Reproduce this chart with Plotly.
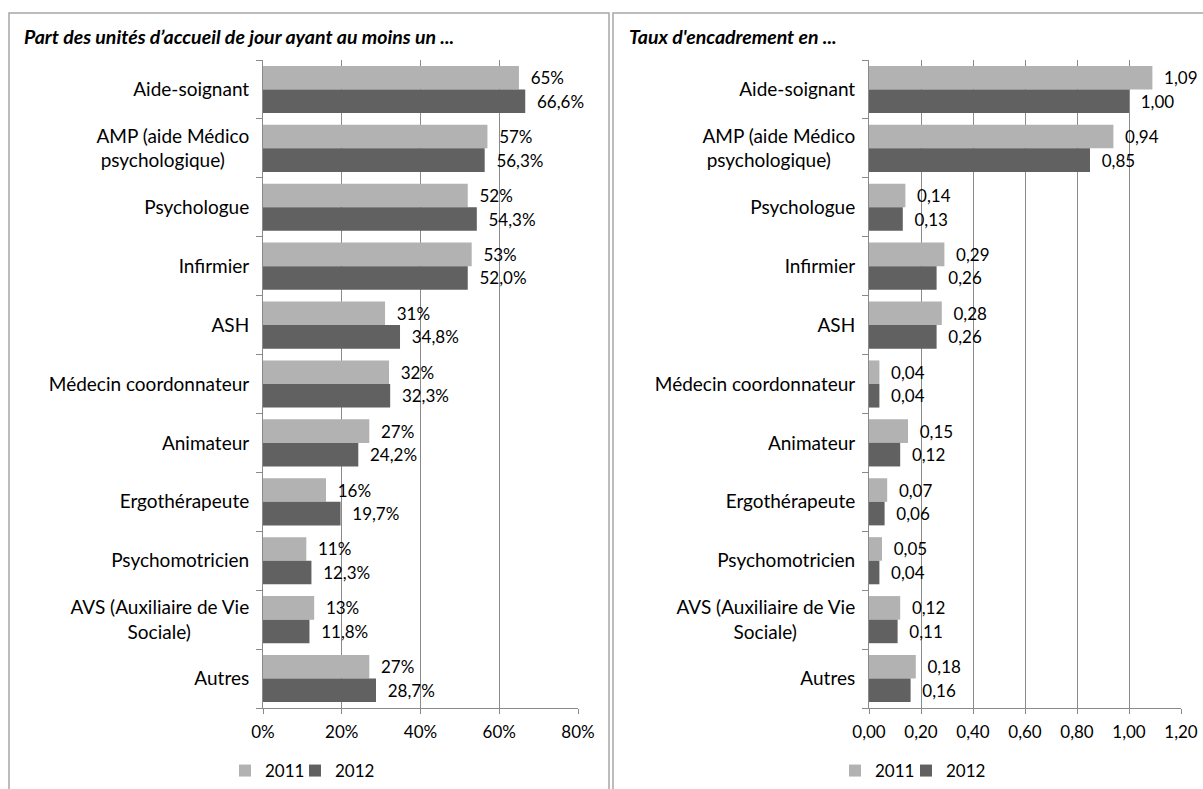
import plotly.graph_objects as go

categories = ["Aide-soignant", "AMP (aide Médico psychologique)", "Psychologue", "Infirmier", "ASH",
              "Médecin coordonnateur", "Animateur", "Ergothérapeute", "Psychomotricien",
              "AVS (Auxiliaire de Vie Sociale)", "Autres"]
# tick labels as drawn (two-line labels centred by hand)
category_labels = ["Aide-soignant", "AMP (aide Médico<br>psychologique)" + "\u00a0" * 5, "Psychologue",
                   "Infirmier", "ASH", "Médecin coordonnateur", "Animateur", "Ergothérapeute",
                   "Psychomotricien", "AVS (Auxiliaire de Vie<br>Sociale)" + "\u00a0" * 12, "Autres"]
part_2011 = [65, 57, 52, 53, 31, 32, 27, 16, 11, 13, 27]
part_2012 = [66.6, 56.3, 54.3, 52.0, 34.8, 32.3, 24.2, 19.7, 12.3, 11.8, 28.7]
taux_2011 = [1.09, 0.94, 0.14, 0.29, 0.28, 0.04, 0.15, 0.07, 0.05, 0.12, 0.18]
taux_2012 = [1.00, 0.85, 0.13, 0.26, 0.26, 0.04, 0.12, 0.06, 0.04, 0.11, 0.16]
part_ticks = [0, 20, 40, 60, 80]
part_tick_labels = ["0%", "20%", "40%", "60%", "80%"]
taux_ticks = [0, 0.2, 0.4, 0.6, 0.8, 1.0, 1.2]

c2011 = "#b2b2b2"
c2012 = "#616161"
grid = "#8a8a8a"
font = "Lato"
W, H = 1203, 789

fig = go.Figure()
sp = "\u00a0\u00a0"
fig.add_trace(go.Bar(y=categories, x=part_2011, orientation="h", name="2011", marker=dict(color=c2011),
                     texttemplate=sp + "%{x:.0f}%", textposition="outside", cliponaxis=False,
                     xaxis="x", yaxis="y", legend="legend"))
fig.add_trace(go.Bar(y=categories, x=part_2012, orientation="h", name="2012", marker=dict(color=c2012),
                     texttemplate=sp + "%{x:.1f}%", textposition="outside", cliponaxis=False,
                     xaxis="x", yaxis="y", legend="legend2"))
fig.add_trace(go.Bar(y=categories, x=taux_2011, orientation="h", name="2011", marker=dict(color=c2011),
                     texttemplate=sp + "%{x:.2f}", textposition="outside", cliponaxis=False,
                     xaxis="x2", yaxis="y2", legend="legend3"))
fig.add_trace(go.Bar(y=categories, x=taux_2012, orientation="h", name="2012", marker=dict(color=c2012),
                     texttemplate=sp + "%{x:.2f}", textposition="outside", cliponaxis=False,
                     xaxis="x2", yaxis="y2", legend="legend4"))
fig.update_traces(textfont=dict(size=17, color="#000"), marker_line_width=0)

ydom = [1 - 708 / H, 1 - 60 / H]
xax = dict(showgrid=True, gridcolor=grid, gridwidth=1, showline=True, linecolor=grid,
           ticks="outside", ticklen=5, tickcolor=grid, zeroline=False, automargin=False,
           tickfont=dict(size=17, color="#000"), ticklabelstandoff=4, fixedrange=True)
yax = dict(type="category", autorange="reversed", showline=True, linecolor=grid,
           ticks="outside", ticklen=6, tickcolor=grid, tickson="boundaries", showgrid=False,
           tickvals=categories, ticktext=category_labels, automargin=False,
           tickfont=dict(size=19, color="#000"), ticklabelstandoff=9, fixedrange=True)

leg = dict(orientation="h", y=1 - 771 / H, xanchor="left", yanchor="middle",
           font=dict(size=17), bgcolor="rgba(0,0,0,0)")
fig.update_layout(
    width=W, height=H, autosize=False,
    margin=dict(l=0, r=0, t=0, b=0, autoexpand=False),
    paper_bgcolor="white", plot_bgcolor="white",
    font=dict(family=font, color="#000"),
    separators=", ",
    barmode="group", bargap=0.2, bargroupgap=0,
    xaxis=dict(xax, domain=[263 / W, 578 / W], range=[0, 80], tickvals=part_ticks,
               ticktext=part_tick_labels, anchor="y"),
    yaxis=dict(yax, domain=ydom, anchor="x"),
    xaxis2=dict(xax, domain=[869 / W, 1181 / W], range=[0, 1.2], tickvals=taux_ticks,
                tickformat=".2f", anchor="y2"),
    yaxis2=dict(yax, domain=ydom, anchor="x2"),
    legend=dict(leg, x=225 / W),
    legend2=dict(leg, x=295 / W),
    legend3=dict(leg, x=835 / W),
    legend4=dict(leg, x=906 / W),
    showlegend=True,
)

fig.add_annotation(text="<b><i>Part des unités d’accueil de jour ayant au moins un ...</i></b>",
                   xref="paper", yref="paper", x=22 / W, y=1 - 37 / H, xanchor="left", yanchor="middle",
                   showarrow=False, font=dict(size=19.5))
fig.add_annotation(text="<b><i>Taux d'encadrement en ...</i></b>",
                   xref="paper", yref="paper", x=627 / W, y=1 - 37 / H, xanchor="left", yanchor="middle",
                   showarrow=False, font=dict(size=19.5))

border = dict(color="#a6a6a6", width=1.5)
fig.add_shape(type="rect", xref="paper", yref="paper", x0=9 / W, x1=609 / W, y0=-0.05, y1=1 - 13 / H,
              line=border, layer="below")
fig.add_shape(type="rect", xref="paper", yref="paper", x0=613 / W, x1=1.05, y0=-0.05, y1=1 - 13 / H,
              line=border, layer="below")

fig.write_html("out.html", config={"displayModeBar": False},
               post_script="document.body.style.margin = '0';")
